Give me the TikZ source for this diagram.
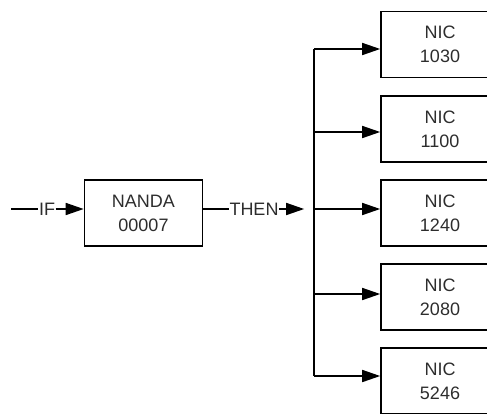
\documentclass[tikz,border=0pt]{standalone}
\usepackage{fontspec}
\setmainfont{Liberation Sans}
\usetikzlibrary{arrows.meta}
\definecolor{txt}{RGB}{45,45,45}
\begin{document}
\begin{tikzpicture}[x=1pt,y=-1pt,
  every node/.style={font=\fontsize{18}{24}\selectfont, text=txt},
  box/.style={draw, line width=1.6pt, minimum width=118pt, minimum height=66pt, align=center, inner sep=0pt},
  lab/.style={inner sep=0.5pt},
  wire/.style={line width=1.6pt},
  arr/.style={wire, -{Triangle[length=18pt,width=12pt]}}]
\useasboundingbox (0,0) rectangle (487,413);
\coordinate (s) at (11,209);
\node[lab] (if) at (47,209) {IF};
\node[box] (nanda) at (143.5,213) {NANDA\\00007};
\node[lab] (then) at (254,209) {THEN};
\node[box] (n1) at (440,44.5) {NIC\\1030};
\node[box] (n2) at (440,129) {NIC\\1100};
\node[box] (n3) at (440,213) {NIC\\1240};
\node[box] (n4) at (440,297) {NIC\\2080};
\node[box] (n5) at (440,381) {NIC\\5246};
\coordinate (t1) at (314,49);
\coordinate (t2) at (314,132);
\coordinate (t3) at (314,209);
\coordinate (t4) at (314,294);
\coordinate (t5) at (314,376);
\draw[wire] (s) -- (if.west);
\draw[arr] (if.east) -- (if.east -| nanda.west);
\draw[wire] (then.west -| nanda.east) -- (then.west);
\draw[arr] (then.east) -- ++(25,0);
\draw[wire] (t1) -- (t5);
\foreach \i in {1,...,5} \draw[arr] (t\i) -- (t\i -| n\i.west);
\end{tikzpicture}
\end{document}
